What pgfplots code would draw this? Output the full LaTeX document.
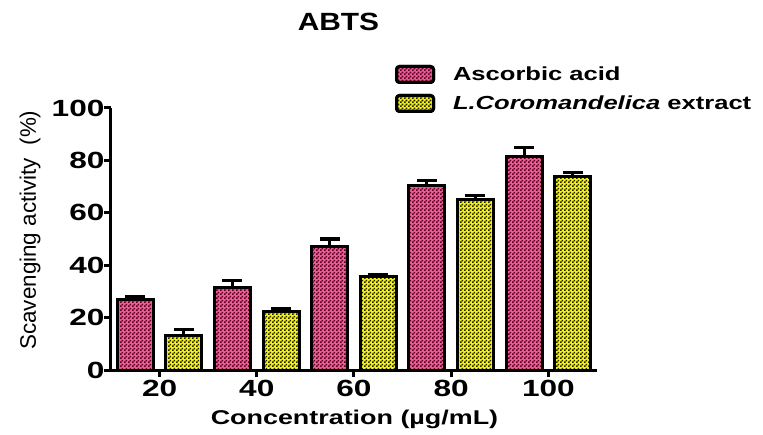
\documentclass[border=0pt]{standalone}
\usepackage{fontspec}
\setmainfont{Liberation Sans}[FakeStretch=1.35]
\newfontfamily\ylabfont{Liberation Sans}
\newfontfamily\titlefont{Liberation Sans}[FakeStretch=1.2]
\usepackage{pgfplots}
\pgfplotsset{compat=1.18}
\usetikzlibrary{patterns.meta}
\pgfdeclarepattern{
  name=checker,
  type=uncolored,
  bottom left={\pgfpoint{0bp}{0bp}},
  top right={\pgfpoint{4bp}{4bp}},
  tile size={\pgfpoint{4bp}{4bp}},
  code={
    \pgfpathrectangle{\pgfpoint{0bp}{0bp}}{\pgfpoint{2bp}{2bp}}
    \pgfpathrectangle{\pgfpoint{2bp}{2bp}}{\pgfpoint{2bp}{2bp}}
    \pgfusepath{fill}
  }
}
\definecolor{pinkc}{RGB}{242,92,148}
\definecolor{pinkdark}{RGB}{85,0,35}
\definecolor{yelc}{RGB}{245,245,0}
\definecolor{yeldark}{RGB}{35,35,0}
\pgfplotsset{boxlegend/.style={legend image code/.code={\draw[##1, rounded corners=3bp] (0bp,-8bp) rectangle (37bp,8bp);}}}
\begin{document}
\begin{tikzpicture}
\path[use as bounding box] (-111bp,-65bp) rectangle (652bp,370bp);
\begin{axis}[
  at={(0,0)}, anchor=south west,
  scale only axis, width=486bp, height=262bp,
  xmin=0.5, xmax=5.5, ymin=0, ymax=100,
  xtick={1,2,3,4,5}, xticklabels={20,40,60,80,100},
  ytick={0,20,40,60,80,100},
  axis x line*=bottom, axis y line*=left,
  axis line style={line width=3bp, -},
  tick style={line width=3bp, black},
  major tick length=7bp,
  tick align=outside,
  ticklabel style={font=\fontsize{23.5}{25}\selectfont\bfseries},
  yticklabel style={xshift=4bp},
  /pgf/number format/assume math mode=true,
  bar width=36bp,
  title={ABTS},
  title style={font={\fontsize{25}{28}\titlefont\bfseries}, at={(axis description cs:0.468,1.307)}, anchor=center, inner sep=0pt},
  xlabel={Concentration (µg/mL)},
  xlabel style={font={\fontsize{20}{24}\selectfont\bfseries}, at={(axis description cs:0.501,-0.189)}, anchor=center, inner sep=0pt},
  ylabel={Scavenging activity\ \ (\%)},
  ylabel style={font={\fontsize{22.5}{26}\ylabfont}, at={(axis description cs:-0.1667,0.534)}, anchor=center, inner sep=0pt},
  legend style={at={(axis description cs:0.584,1.165)}, anchor=north west, draw=none, fill=none, inner sep=0pt, row sep=10bp,
    font={\fontsize{19}{22}\selectfont\bfseries}, nodes={inner sep=1bp},
    /tikz/every odd column/.append style={column sep=17bp}},
  legend cell align=left,
]
\addplot[ybar, bar shift=0pt, draw=black, line width=3bp, pattern=checker, pattern color=pinkdark, preaction={fill=pinkc},
  boxlegend,
  error bars/.cd, y dir=plus, y explicit,
  error bar style={line width=3bp, black},
  error mark options={rotate=90, line width=3bp, mark size=10bp, black}]
coordinates {(0.75,27) +- (0,1) (1.75,31.5) +- (0,2.5) (2.75,47) +- (0,3) (3.75,70.5) +- (0,2) (4.75,81.5) +- (0,3.5)};
\addplot[ybar, bar shift=0pt, draw=black, line width=3bp, pattern=checker, pattern color=yeldark, preaction={fill=yelc},
  boxlegend,
  error bars/.cd, y dir=plus, y explicit,
  error bar style={line width=3bp, black},
  error mark options={rotate=90, line width=3bp, mark size=10bp, black}]
coordinates {(1.25,13.2) +- (0,2.3) (2.25,22.5) +- (0,0.8) (3.25,35.5) +- (0,1) (4.25,65) +- (0,1.5) (5.25,74) +- (0,1.3)};
\legend{Ascorbic acid, \textit{L.Coromandelica} extract}
\end{axis}
\end{tikzpicture}
\end{document}
